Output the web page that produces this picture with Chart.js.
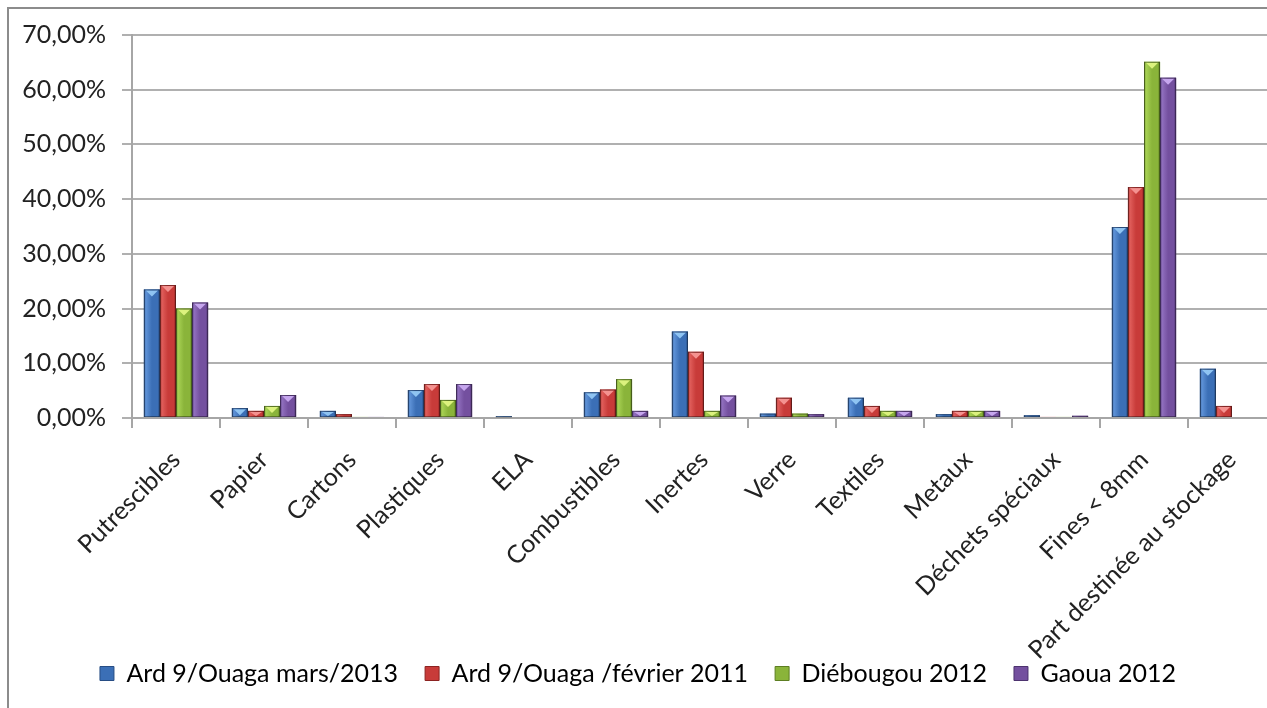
<!DOCTYPE html>
<html>
<head>
<meta charset="utf-8">
<script src="https://cdn.jsdelivr.net/npm/chart.js@4/dist/chart.umd.min.js"></script>
<style>
  html, body { margin: 0; padding: 0; background: #fff; overflow: hidden; }
  #frame { position: absolute; left: 7px; top: 7px; width: 1300px; height: 720px; border: 2px solid #8c8c8c; }
  #wrap { position: absolute; left: 0; top: 0; width: 1290px; height: 720px; }
</style>
</head>
<body>
<div id="frame"></div>
<div id="wrap"><canvas id="dechets"></canvas></div>
<script>
// catégories de déchets
const categories = ['Putrescibles', 'Papier', 'Cartons', 'Plastiques', 'ELA', 'Combustibles',
  'Inertes', 'Verre', 'Textiles', 'Metaux', 'Déchets spéciaux', 'Fines < 8mm',
  'Part destinée au stockage'];

// pourcentages par campagne
const ardMars2013 = [23.5, 1.8, 1.3, 5.1, 0.3, 4.7, 15.8, 0.8, 3.7, 0.7, 0.5, 34.9, 9.0];
const ardFevrier2011 = [24.3, 1.3, 0.7, 6.2, 0, 5.2, 12.1, 3.7, 2.2, 1.3, 0.2, 42.2, 2.2];
const dieb2012 = [20.0, 2.2, 0.2, 3.3, 0, 7.1, 1.3, 0.8, 1.3, 1.3, 0.2, 65.1, 0];
const gaoua2012 = [21.1, 4.2, 0.2, 6.2, 0, 1.3, 4.1, 0.7, 1.3, 1.3, 0.4, 62.2, 0];

const seriesNames = ['Ard 9/Ouaga mars/2013', 'Ard 9/Ouaga /février 2011', 'Diébougou 2012', 'Gaoua 2012'];

// teintes : base, clair, sombre, biseau
const tones = [
  ['#3b6fb6', '#5f93d8', '#274d84', '#8fc4f2'],
  ['#c83b39', '#e05e5b', '#8c2321', '#f49290'],
  ['#8ab43a', '#a8d254', '#5d7e22', '#dcf27e'],
  ['#74509f', '#9170bf', '#4d336f', '#c6a6ee']
];

const fontFamily = 'Lato, "Open Sans", sans-serif';

// dégradé + biseau sur chaque barre
const bevelPlugin = {
  id: 'bevel',
  afterDatasetsDraw(chart) {
    const ctx = chart.ctx;
    chart.data.datasets.forEach((ds, i) => {
      const meta = chart.getDatasetMeta(i);
      const t = tones[i];
      meta.data.forEach(bar => {
        const h = bar.base - bar.y;
        if (h < 0.5) return;
        const left = bar.x - bar.width / 2;
        const right = bar.x + bar.width / 2;
        const g = ctx.createLinearGradient(left, 0, right, 0);
        g.addColorStop(0, t[2]);
        g.addColorStop(0.12, t[1]);
        g.addColorStop(0.5, t[0]);
        g.addColorStop(0.85, t[0]);
        g.addColorStop(1, t[2]);
        ctx.save();
        ctx.fillStyle = g;
        ctx.fillRect(left, bar.y, bar.width, h);
        if (h > 4) {
          const tri = Math.min(7, h - 1);
          ctx.fillStyle = t[3];
          ctx.beginPath();
          ctx.moveTo(left + 2, bar.y + 1);
          ctx.lineTo(right - 2, bar.y + 1);
          ctx.lineTo(bar.x, bar.y + tri);
          ctx.closePath();
          ctx.fill();
        }
        ctx.strokeStyle = 'rgba(0,0,0,0.35)';
        ctx.lineWidth = 1;
        ctx.strokeRect(left + 0.5, bar.y + 0.5, bar.width - 1, h - 1);
        ctx.restore();
      });
    });
  }
};

new Chart(document.getElementById('dechets'), {
  type: 'bar',
  data: {
    labels: categories,
    datasets: [ardMars2013, ardFevrier2011, dieb2012, gaoua2012].map((vals, i) => ({
      label: seriesNames[i],
      data: vals,
      backgroundColor: tones[i][0],
      borderWidth: 0,
      categoryPercentage: 0.73,
      barPercentage: 1.0
    }))
  },
  options: {
    responsive: true,
    maintainAspectRatio: false,
    animation: false,
    layout: { padding: { left: 0, right: 14, top: 35, bottom: 24 } },
    plugins: {
      tooltip: { enabled: false },
      legend: {
        position: 'bottom',
        labels: {
          font: { family: fontFamily, size: 25 },
          color: '#222',
          boxWidth: 14,
          boxHeight: 14,
          padding: 27,
          generateLabels(chart) {
            return chart.data.datasets.map((ds, i) => ({
              text: ds.label,
              fillStyle: tones[i][0],
              strokeStyle: tones[i][2],
              lineWidth: 1,
              datasetIndex: i
            }));
          }
        }
      }
    },
    scales: {
      x: {
        grid: { drawOnChartArea: false, color: '#a6a6a6', lineWidth: 2, tickLength: 10 },
        border: { color: '#a6a6a6', width: 2 },
        ticks: {
          font: { family: fontFamily, size: 25 },
          color: '#222',
          minRotation: 45,
          maxRotation: 45,
          padding: 17
        },
        afterFit(scale) {
          scale.height = 216;
          // la dernière étiquette déborde sur la légende
          scale._computeLabelArea = () => undefined;
        }
      },
      y: {
        min: 0,
        max: 70,
        grid: { color: '#b0b0b0', lineWidth: 2, tickLength: 10 },
        border: { color: '#a6a6a6', width: 2 },
        ticks: {
          stepSize: 10,
          font: { family: fontFamily, size: 25 },
          color: '#222',
          padding: 16,
          callback: v => v.toFixed(2).replace('.', ',') + '%'
        },
        afterFit(scale) { scale.width = 132; }
      }
    }
  },
  plugins: [bevelPlugin]
});
</script>
</body>
</html>
